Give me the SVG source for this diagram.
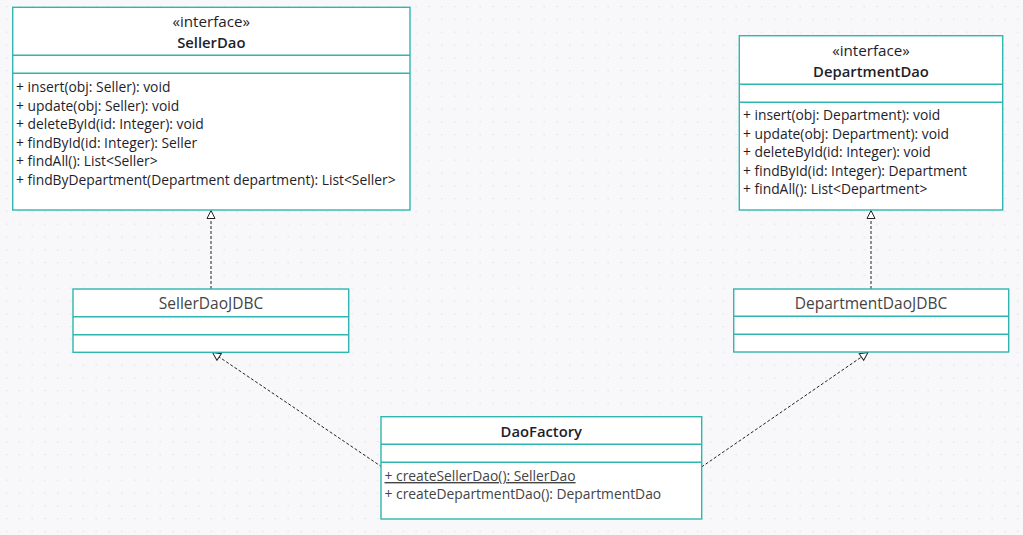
<svg xmlns="http://www.w3.org/2000/svg" width="1023" height="535" viewBox="0 0 1023 535">
<defs>
<pattern id="grid" x="6" y="6" width="12.8" height="12.8" patternUnits="userSpaceOnUse">
<rect x="0" y="0" width="1.2" height="1.2" fill="#dcdce0"/>
</pattern>
<marker id="tri" markerWidth="12" markerHeight="12" refX="9" refY="5" orient="auto" markerUnits="userSpaceOnUse">
<path d="M1,1 L9,5 L1,9 Z" fill="#fff" stroke="#222" stroke-width="1"/>
</marker>
<style>
.box{fill:#fff;stroke:#2fb6b0;stroke-width:1.4}
.sep{stroke:#2fb6b0;stroke-width:1.4}
.t{font-family:"Open Sans","Noto Sans",sans-serif;font-size:13.85px;fill:#1e1e2c}
.title{font-family:"Open Sans","Noto Sans",sans-serif;font-size:14.8px;font-weight:600;fill:#1e1e2c}
.st{font-family:"Open Sans","Noto Sans",sans-serif;font-size:15.2px;fill:#1e1e2c}
.g{font-family:"Open Sans","Noto Sans",sans-serif;font-size:15.5px;fill:#444}
.gm{font-family:"Open Sans","Noto Sans",sans-serif;font-size:13.85px;fill:#444}
.c{text-anchor:middle}
.edge{fill:none;stroke:#222;stroke-width:1;stroke-dasharray:3,2;marker-end:url(#tri)}
</style>
</defs>
<rect width="1023" height="535" fill="#f8f8fa"/>
<rect width="1023" height="535" fill="url(#grid)"/>

<g id="connectors">
<path class="edge" d="M211,289 L211,210.5"/>
<path class="edge" d="M871,289 L871,210.5"/>
<path class="edge" d="M382,467 L212.5,352.5"/>
<path class="edge" d="M701.5,467 L868,352.5"/>
</g>

<g id="SellerDao">
<rect class="box" x="12.7" y="7.3" width="397.3" height="202.7"/>
<line class="sep" x1="12.7" y1="55.3" x2="410" y2="55.3"/>
<line class="sep" x1="12.7" y1="73.3" x2="410" y2="73.3"/>
<text class="st c" x="211.3" y="27">«interface»</text>
<text class="title c" x="211.3" y="48">SellerDao</text>
<text class="t" x="16" y="92">+ insert(obj: Seller): void</text>
<text class="t" x="16" y="110.5">+ update(obj: Seller): void</text>
<text class="t" x="16" y="129">+ deleteById(id: Integer): void</text>
<text class="t" x="16" y="147.5">+ findById(id: Integer): Seller</text>
<text class="t" x="16" y="166">+ findAll(): List&lt;Seller&gt;</text>
<text class="t" x="16" y="184.5">+ findByDepartment(Department department): List&lt;Seller&gt;</text>
</g>

<g id="DepartmentDao">
<rect class="box" x="739.3" y="35.7" width="263.4" height="174.3"/>
<line class="sep" x1="739.3" y1="84.3" x2="1002.7" y2="84.3"/>
<line class="sep" x1="739.3" y1="102.3" x2="1002.7" y2="102.3"/>
<text class="st c" x="871" y="56">«interface»</text>
<text class="title c" x="871" y="77">DepartmentDao</text>
<text class="t" x="743" y="120">+ insert(obj: Department): void</text>
<text class="t" x="743" y="138.5">+ update(obj: Department): void</text>
<text class="t" x="743" y="157">+ deleteById(id: Integer): void</text>
<text class="t" x="743" y="175.5">+ findById(id: Integer): Department</text>
<text class="t" x="743" y="194">+ findAll(): List&lt;Department&gt;</text>
</g>

<g id="SellerDaoJDBC">
<rect class="box" x="73" y="289" width="275.7" height="63.3"/>
<line class="sep" x1="73" y1="316.7" x2="348.7" y2="316.7"/>
<line class="sep" x1="73" y1="334.7" x2="348.7" y2="334.7"/>
<text class="g c" x="211" y="308.5">SellerDaoJDBC</text>
</g>

<g id="DepartmentDaoJDBC">
<rect class="box" x="733.7" y="289" width="275" height="63"/>
<line class="sep" x1="733.7" y1="316.3" x2="1008.7" y2="316.3"/>
<line class="sep" x1="733.7" y1="334.3" x2="1008.7" y2="334.3"/>
<text class="g c" x="871" y="308.5">DepartmentDaoJDBC</text>
</g>

<g id="DaoFactory">
<rect class="box" x="381" y="416.7" width="320.7" height="102.3"/>
<line class="sep" x1="381" y1="444.3" x2="701.7" y2="444.3"/>
<line class="sep" x1="381" y1="462.3" x2="701.7" y2="462.3"/>
<text class="title c" x="541.3" y="437">DaoFactory</text>
<text class="gm" x="384.5" y="481" text-decoration="underline">+ createSellerDao(): SellerDao</text>
<text class="gm" x="384.5" y="499">+ createDepartmentDao(): DepartmentDao</text>
</g>
</svg>
